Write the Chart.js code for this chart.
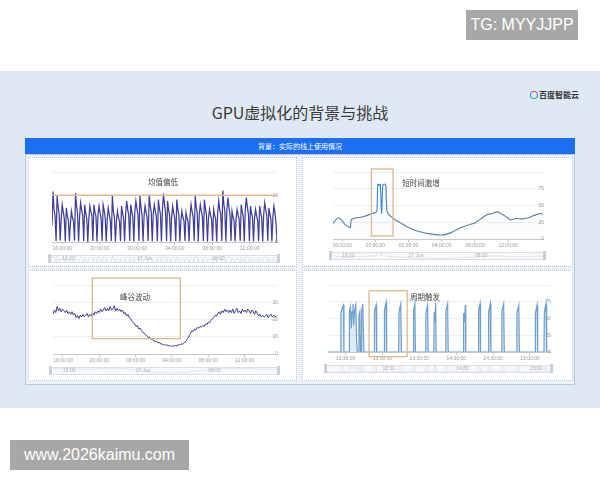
<!DOCTYPE html>
<html>
<head>
<meta charset="utf-8">
<script src="https://cdn.jsdelivr.net/npm/chart.js@4.4.1/dist/chart.umd.min.js"></script>
<style>
  html, body { margin: 0; padding: 0; width: 600px; height: 480px; background: #fff; overflow: hidden;
    font-family: "Liberation Sans", Arial, sans-serif; }
  .abs { position: absolute; }
  .wm { position: absolute; background: #a7a7a7; color: #fff; font-size: 16px; line-height: 30px; text-align: center; }
  #slide { left: 0; top: 71px; width: 600px; height: 337px; background: #dfe9f4; }
  #title { left: 0; top: 100px; width: 600px; text-align: center; font-family: "Noto Sans CJK SC"; font-size: 16px; color: #3a3a3a; }
  #logo { left: 530px; top: 90px; font-family: "Noto Sans CJK SC"; font-size: 8px; font-weight: bold; color: #333; line-height: 10px; }
  #logo i { display: inline-block; width: 6px; height: 6px; border-radius: 50%; border: 1.5px solid; border-color: #e8423a #2f7be6 #2bb673 #2f7be6; vertical-align: -1px; margin-right: 1px; }
  #bar { left: 25px; top: 138px; width: 550px; height: 16px; background: #1d6ff2; color: #fff; text-align: center;
    font-family: "Noto Sans CJK SC"; font-size: 7px; line-height: 16px; }
  #box { left: 25px; top: 154px; width: 548px; height: 229px; background: #edf2f8; border: 1px solid #b8c7d9; }
  .panel { position: absolute; background: #fff; border: 1px dotted #b5c6da; box-sizing: border-box; }
  .panel canvas { position: absolute; left: 0; top: 0; }
  .ptitle { position: absolute; transform: translate(-50%, -50%); font-family: "Noto Sans CJK SC"; font-size: 7.5px; color: #444; white-space: nowrap; }
</style>
</head>
<body>
<div class="wm" style="left:466px;top:10px;width:112px;height:30px;">TG: MYYJJPP</div>
<div id="slide" class="abs"></div>
<div id="logo" class="abs"><i></i>百度智能云</div>
<div id="title" class="abs">GPU虚拟化的背景与挑战</div>
<div id="bar" class="abs">背景：实际的线上使用情况</div>
<div id="box" class="abs"></div>

<div class="panel" style="left:28px;top:157px;width:269px;height:110px;"><canvas id="c1" width="269" height="110"></canvas></div>
<div class="panel" style="left:302px;top:157px;width:271px;height:110px;"><canvas id="c2" width="271" height="110"></canvas></div>
<div class="panel" style="left:28px;top:270px;width:269px;height:111px;"><canvas id="c3" width="269" height="111"></canvas></div>
<div class="panel" style="left:302px;top:270px;width:271px;height:111px;"><canvas id="c4" width="271" height="111"></canvas></div>

<div class="ptitle" style="left:163px;top:181px;">均值偏低</div>
<div class="ptitle" style="left:421px;top:182px;">短时间激增</div>
<div class="ptitle" style="left:135px;top:296px;">峰谷波动</div>
<div class="ptitle" style="left:425px;top:296px;">周期触发</div>

<div class="wm" style="left:10px;top:440px;width:179px;height:30px;">www.2026kaimu.com</div>

<script>
// ---- chart 1: 均值偏低 (sampled every ~6.5 min from 14:54) ----
const util1Start = 14.9;
const util1Step = 0.1091;
const util1 = [
  3.5, 10.8, 7, 5.5,
  0.2, 10, 7.5, 6,   0.3, 5, 8, 6.5, 5,   0.1, 7.3, 5.5, 4.8,   0.2, 4, 6.6, 5.2, 4.5,
  0.3, 10.5, 7.8, 6,   0.1, 5.5, 8.4, 6.8, 5.6,   0.2, 8, 6.2, 5,   0, 5, 7.7, 6.5, 5.8,
  0.2, 8, 6.4, 5.5,   0.1, 6, 7.7, 6.2, 5,   0.2, 8, 6.8, 5.2,   0.1, 5, 7.3, 5.8, 4.6,
  0.2, 10, 6.5, 5.4,   0.1, 4.5, 6.6, 5.2, 4.4,   0.2, 7.7, 6.2, 5,   0.1, 6, 8.8, 7, 5.8,
  0.2, 8, 6.5, 5.5,   0.1, 6.5, 8.8, 7.2, 6,   0.2, 9.9, 7.5, 6,   0.1, 5.5, 7.7, 6.4, 5.2,
  0.2, 10.2, 7.8, 6.5,   0.1, 6, 8, 6.6, 5.4,   0.2, 9.1, 7.2, 6,   0.1, 7, 10.4, 8, 6.4,
  0.2, 8.8, 6.8, 5.6,   0.1, 5.5, 7.7, 6.2, 5,   0.2, 9.1, 7, 5.8,   0.1, 4.5, 6.6, 5.3, 4.6,
  0.2, 6.3, 5.2, 4.4,   0.1, 5.6, 8, 6.5, 5.4,   0.2, 9.9, 7.6, 6.2,   0.1, 6, 8, 6.6, 5.5,
  0.2, 9.1, 7.2, 5.8,   0.1, 5, 7, 5.8, 4.8,   0.2, 7, 5.8, 4.9,   0.1, 6.2, 8.8, 7, 5.8,
  0.2, 11, 8.2, 6.5,   0.1, 7, 9.5, 7.5, 6,   0.2, 6.6, 5.4, 4.6,   0.1, 5, 7, 5.8, 4.8,
  0.2, 8, 6.5, 5.4,   0.1, 7, 9.5, 7.4, 6,   0.2, 7.7, 6.3, 5.2,   0.1, 5, 7, 5.6, 4.7,
  0.2, 7.7, 6.4, 5.3,   0.1, 6, 8.4, 6.9, 5.6,   0.2, 7.3, 6, 5,   0.1, 5.5, 7.7, 6.3, 4,
  0
];
const refLevel1 = 10;

// ---- chart 2: 短时间激增 ----
const times2 = [14.9, 15.2, 15.45, 15.7, 15.95, 16.2, 16.5, 16.8, 17.0, 17.1, 17.5, 18.0, 18.6, 19.2, 19.7,
  20.1, 20.2, 20.3, 20.45, 20.6, 20.75, 20.9, 21.05, 21.25, 21.4, 21.7, 22.3, 23.1, 23.9, 24.7, 25.5,
  26.4, 27.2, 28.0, 28.8, 29.6, 30.4, 31.2, 32.0, 32.8, 33.5, 34.1, 34.7, 35.3, 35.9, 36.3, 36.9,
  37.7, 38.5, 39.3, 39.9, 40.2];
const util2 = [23, 28, 31.5, 31, 28, 24, 20, 18, 17, 29, 31, 32, 33.5, 36, 38.5,
  40, 44, 82, 80, 82, 38, 80, 82, 81, 42, 35.5, 29.5, 23.5, 18, 13.5, 10.5,
  8, 6.5, 6, 8, 12.5, 17.5, 21, 24, 31, 36.5, 38, 40.5, 37, 32, 28.5, 30.5,
  30, 32, 36, 38, 37];

// ---- chart 3: 峰谷波动 (every 9 min from 14:54) ----
const util3Start = 14.9;
const util3Step = 0.15;
const util3 = [
  23, 25.5, 24, 27.5, 25, 26.5, 24.5, 26, 25, 24,
  25.5, 23.5, 24.5, 23, 24.5, 22.5, 23.5, 21, 22.5, 20.5,
  22.5, 21.5, 23, 21.5, 22.5, 23.5, 21.5, 23, 22, 24,
  22.5, 24.5, 23.5, 25, 24, 26, 24.5, 25.5, 27, 25,
  26.5, 25, 27.5, 25.5, 26, 28, 25, 26.5, 25, 26,
  24.5, 25.5, 23.5, 24, 22, 23, 21, 20.5, 19, 18,
  17.5, 16, 16.5, 14.5, 15, 13.5, 12.5, 12, 11, 10.5,
  9.5, 9.8, 8.5, 8.8, 7.6, 7.2, 7.5, 6.5, 6.8, 5.8,
  6, 5.2, 5.6, 4.8, 5.4, 4.5, 5, 4.2, 4.9, 4.4,
  5, 4.6, 5.5, 5.2, 6, 5.5, 6.4, 7, 7.8, 9,
  10.5, 12, 13.5, 13, 14.5, 14, 15.5, 15, 16, 15.5,
  16.5, 16, 17.5, 17, 18.5, 18, 19.5, 20.5, 21, 22.5,
  22, 23.5, 24.5, 23, 25, 24, 26, 24.5, 25.5, 24,
  25.5, 24, 26, 23.5, 25, 26.5, 24, 25, 23.5, 26,
  24.5, 25.5, 24, 26, 25, 23.5, 25.5, 24.5, 23, 25,
  23.5, 22, 23, 21.5, 22.5, 21.5, 22, 23, 21, 22.5,
  23, 21.5, 22.5, 21.5, 22
];

// ---- chart 4: 周期触发 (minutes after 12:00) ----
const times4 = [15.7,
  25.9, 26.2, 27.3, 28.3, 28.7,
  32.8, 33.1, 34.0, 34.6, 35.3, 36.0, 36.6, 37.3, 38.3, 38.9, 39.5,
  40.6, 40.9, 41.6, 42.2, 42.8, 43.1, 44.0, 44.5, 45.0,
  53.2, 53.5, 54.8, 55.3,   61.3, 61.6, 62.9, 63.4,   73.2, 73.5, 74.9, 75.4,
  85.0, 85.3, 86.4, 86.8,   95.0, 95.3, 96.7, 97.2,   101.8, 102.1, 102.7, 103.3, 103.7,
  111.3, 111.6, 113.0, 113.5,   125.7, 126.0, 126.8, 127.4, 127.8,
  137.9, 138.2, 139.4, 139.8,   146.1, 146.4, 147.7, 148.2,   156.9, 157.2, 158.6, 159.1,
  169.1, 169.4, 170.9, 171.4,   184.1, 184.4, 185.8, 186.3,   191.4, 191.7, 193.1, 193.6,
  196.3];
const util4 = [0,
  0, 58, 66, 70, 0,
  0, 60, 68, 35, 60, 72, 40, 62, 70, 20, 0,
  0, 55, 60, 0, 0, 62, 72, 30, 0,
  0, 60, 70, 0,   0, 62, 74, 0,   0, 60, 72, 0,
  0, 62, 72, 0,   0, 58, 70, 0,   0, 60, 45, 74, 0,
  0, 62, 72, 0,   0, 58, 45, 70, 0,
  0, 62, 72, 0,   0, 60, 72, 0,   0, 62, 72, 0,
  0, 60, 70, 0,   0, 58, 70, 0,   0, 60, 72, 0,
  0];

// axis ticks / labels
const hourTicks = [16, 20, 24, 28, 32, 36];
const hourLabels = ['16:00:00', '20:00:00', '00:00:00', '04:00:00', '08:00:00', '12:00:00'];
const minuteTicks4 = [30, 60, 90, 120, 150, 180];
const minuteLabels4 = ['12:30:00', '13:00:00', '13:30:00', '14:00:00', '14:30:00', '15:00:00'];
const sliderTicksDay = [16, 24, 32];
const sliderLabelsDay = ['16:00', '17 Jun', '08:00'];
const sliderTicks4 = [60, 120, 180];
const sliderLabels4 = ['13:00', '14:00', '15:00'];

// highlight boxes [x from, x to, y from, y to]
const box2 = [19.53, 22.14, 4.5, 104.5];
const box3 = [19.23, 28.92, 8.9, 44];
const box4 = [49.1, 80.1, -7, 91.5];

const hlBox = {
  id: 'hlBox',
  afterDatasetsDraw(chart, args, opts) {
    if (!opts.range) return;
    const xs = chart.scales.x, ys = chart.scales.y, ctx = chart.ctx;
    const x0 = xs.getPixelForValue(opts.range[0]), x1 = xs.getPixelForValue(opts.range[1]);
    const y0 = ys.getPixelForValue(opts.range[3]), y1 = ys.getPixelForValue(opts.range[2]);
    ctx.save();
    ctx.strokeStyle = '#dcb88e';
    ctx.lineWidth = 1.3;
    ctx.strokeRect(x0, y0, x1 - x0, y1 - y0);
    ctx.restore();
  }
};

const slider = {
  id: 'slider',
  afterDraw(chart, args, opts) {
    const a = chart.chartArea, ctx = chart.ctx, xs = chart.scales.x;
    const top = a.bottom + 13, h = 7, l = a.left - 3, r = a.right + 2;
    ctx.save();
    ctx.fillStyle = '#f6f8fa';
    ctx.fillRect(l, top, r - l, h);
    const pts = chart.data.datasets[opts.dataset].data;
    ctx.beginPath();
    pts.forEach((p, i) => {
      const px = xs.getPixelForValue(p.x), py = top + h - (p.y / opts.yMax) * h;
      if (i === 0) ctx.moveTo(px, py); else ctx.lineTo(px, py);
    });
    ctx.strokeStyle = '#d3d9e0';
    ctx.lineWidth = 0.6;
    ctx.stroke();
    ctx.strokeStyle = '#d8dee5';
    ctx.lineWidth = 1;
    ctx.strokeRect(l + 0.5, top + 0.5, r - l - 1, h);
    ctx.fillStyle = '#c9d0d8';
    ctx.fillRect(l - 1, top - 1, 3, h + 2);
    ctx.fillRect(r - 2, top - 1, 3, h + 2);
    ctx.font = '5px "Liberation Sans"';
    ctx.fillStyle = '#b0b0b0';
    ctx.textBaseline = 'middle';
    opts.ticks.forEach((t, i) => ctx.fillText(opts.labels[i], xs.getPixelForValue(t), top + h / 2 + 0.5));
    ctx.restore();
  }
};

Chart.defaults.font.family = '"Liberation Sans", Arial, sans-serif';

function xAxis(min, max, ticks, labels) {
  return {
    type: 'linear', min: min, max: max,
    afterBuildTicks: s => { s.ticks = ticks.map(v => ({ value: v })); },
    afterFit: s => { s.height = 11; },
    ticks: { callback: (v, i) => labels[i], maxRotation: 0, autoSkip: false, font: { size: 5 }, color: '#9a9a9a', padding: 1 },
    grid: { drawOnChartArea: false, tickLength: 3, color: '#c8c8c8' },
    border: { color: '#c8c8c8' }
  };
}

function yAxis(max, ticks, shown) {
  return {
    position: 'right', min: ticks[0] < 0 ? ticks[0] : 0, max: max,
    afterBuildTicks: s => { s.ticks = ticks.map(v => ({ value: v })); },
    afterFit: s => { s.width = 0; },
    ticks: { mirror: true, padding: 1, font: { size: 5 }, color: '#9a9a9a',
      callback: v => shown.includes(v) ? String(v) : '' },
    grid: { color: '#eceff3', drawTicks: false },
    border: { display: false }
  };
}

function baseOptions(pad, x, y, plugins) {
  return {
    responsive: false, animation: false,
    layout: { padding: pad },
    scales: { x: x, y: y },
    plugins: Object.assign({ legend: { display: false }, tooltip: { enabled: false } }, plugins),
    elements: { point: { radius: 0 } }
  };
}

// chart 1
new Chart(document.getElementById('c1'), {
  type: 'line',
  data: {
    datasets: [
      { data: [{ x: 14.9, y: refLevel1 }, { x: 38.9, y: refLevel1 }], borderColor: '#e8b98e', borderWidth: 1.5 },
      { data: util1.map((v, i) => ({ x: util1Start + i * util1Step, y: v })), borderColor: '#40409a', borderWidth: 1.25 }
    ]
  },
  options: baseOptions({ left: 23, right: 21, top: 14, bottom: 15 },
    xAxis(14.9, 38.9, hourTicks, hourLabels),
    yAxis(15, [0, 10, 15], [0, 10]),
    { slider: { dataset: 1, yMax: 12, ticks: sliderTicksDay, labels: sliderLabelsDay } }),
  plugins: [slider]
});

// chart 2 (the surge segments drawn in brighter blue)
new Chart(document.getElementById('c2'), {
  type: 'line',
  data: {
    datasets: [{ data: times2.map((t, i) => ({ x: t, y: util2[i] })), borderColor: '#5b7e9c', borderWidth: 1.1,
      fill: true, backgroundColor: 'rgba(140,180,215,0.04)', tension: 0.25,
      segment: { borderColor: c => (c.p0.parsed.y > 45 || c.p1.parsed.y > 45) ? '#3f84d4' : undefined } }]
  },
  options: baseOptions({ left: 30, right: 31, top: 14, bottom: 18 },
    xAxis(14.9, 40.2, hourTicks, hourLabels),
    yAxis(100, [0, 25, 50, 75, 100], [0, 25, 50, 75]),
    { hlBox: { range: box2 }, slider: { dataset: 0, yMax: 90, ticks: sliderTicksDay, labels: sliderLabelsDay } }),
  plugins: [hlBox, slider]
});

// chart 3
new Chart(document.getElementById('c3'), {
  type: 'line',
  data: {
    datasets: [{ data: util3.map((v, i) => ({ x: util3Start + i * util3Step, y: v })), borderColor: '#3d3d92', borderWidth: 1 }]
  },
  options: baseOptions({ left: 24, right: 21, top: 14, bottom: 17 },
    xAxis(14.9, 39.57, hourTicks, hourLabels),
    yAxis(40, [0, 10, 20, 30, 40], [0, 10, 20, 30]),
    { hlBox: { range: box3 }, slider: { dataset: 0, yMax: 32, ticks: sliderTicksDay, labels: sliderLabelsDay } }),
  plugins: [hlBox, slider]
});

// chart 4
new Chart(document.getElementById('c4'), {
  type: 'line',
  data: {
    datasets: [{ data: times4.map((t, i) => ({ x: t, y: util4[i] })), borderColor: '#6f9fcb', borderWidth: 1.2,
      fill: true, backgroundColor: 'rgba(150,190,225,0.3)' }]
  },
  options: baseOptions({ left: 25, right: 24, top: 14, bottom: 19 },
    xAxis(15.7, 196.3, minuteTicks4, minuteLabels4),
    yAxis(100, [0, 25, 50, 75, 100], [0, 25, 50, 75]),
    { hlBox: { range: box4 }, slider: { dataset: 0, yMax: 80, ticks: sliderTicks4, labels: sliderLabels4 } }),
  plugins: [hlBox, slider]
});
</script>
</body>
</html>
